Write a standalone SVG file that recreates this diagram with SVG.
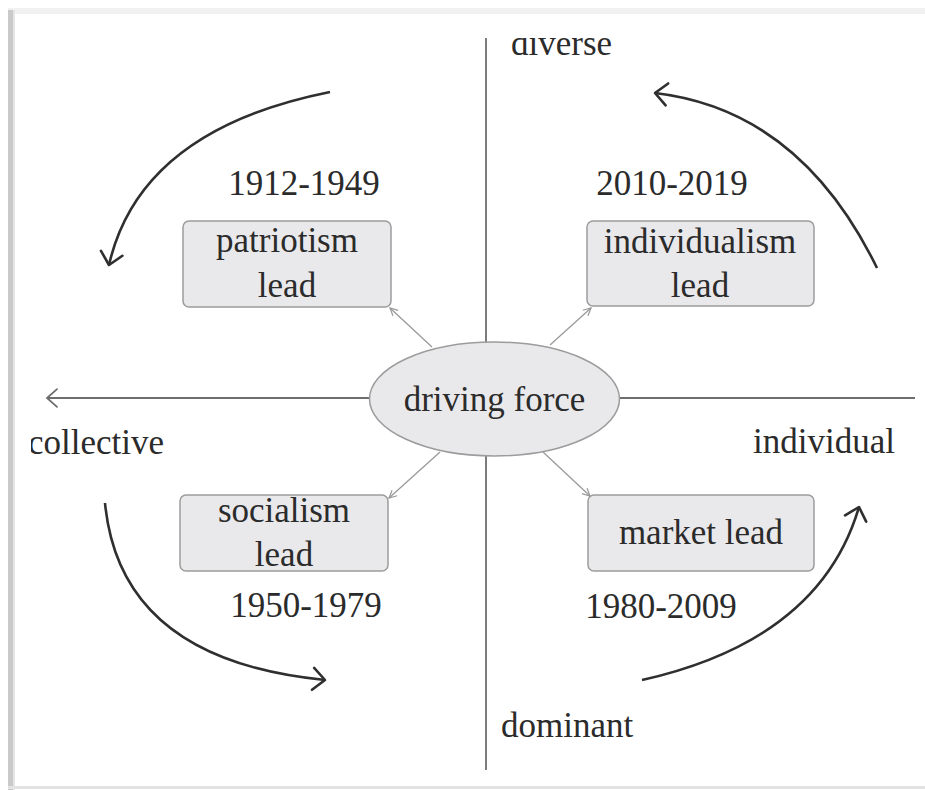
<svg xmlns="http://www.w3.org/2000/svg" width="925" height="790" viewBox="0 0 925 790">
  <style>
    .box { fill: #e9e9eb; stroke: #9c9c9c; stroke-width: 1.5; }
    .axis { stroke: #6e6e6e; stroke-width: 1.8; fill: none; }
    .link { stroke: #9a9a9a; stroke-width: 1.3; fill: none; marker-end: url(#tip); }
    .flow { stroke: #2f2f2f; stroke-width: 2.6; fill: none; marker-end: url(#chev); }
  </style>
  <defs>
    <marker id="chev" markerUnits="userSpaceOnUse" markerWidth="30" markerHeight="30" refX="15" refY="12" orient="auto" viewBox="0 0 30 24">
      <path d="M3,1 L15,12 L3,23" fill="none" stroke="#2f2f2f" stroke-width="2.6" stroke-linecap="round" stroke-linejoin="round"/>
    </marker>
    <marker id="axtip" markerUnits="userSpaceOnUse" markerWidth="20" markerHeight="20" refX="12" refY="9" orient="auto" viewBox="0 0 14 18">
      <path d="M3,1 L12,9 L3,17" fill="none" stroke="#6e6e6e" stroke-width="1.6" stroke-linecap="round"/>
    </marker>
    <marker id="tip" markerUnits="userSpaceOnUse" markerWidth="10" markerHeight="10" refX="7" refY="4" orient="auto" viewBox="0 0 8 8">
      <path d="M1,1 L7,4 L1,7" fill="none" stroke="#9a9a9a" stroke-width="1"/>
    </marker>
    <clipPath id="frame">
      <rect x="31" y="38" width="889" height="749"/>
    </clipPath>
  </defs>

  <rect width="925" height="790" fill="#ffffff"/>
  <!-- soft page edge -->
  <rect x="8" y="8" width="917" height="6" fill="#f1f1f1"/>
  <rect x="8" y="10" width="5" height="780" fill="#c9c9c9"/>
  <rect x="13" y="10" width="2" height="780" fill="#e6e6e6"/>
  <rect x="8" y="786" width="917" height="3" fill="#e3e3e3"/>

  <g clip-path="url(#frame)" font-family="Liberation Serif, DejaVu Serif, serif" font-size="35" fill="#2b2b2b">
    <!-- axes and links -->
    <g id="connectors">
      <line class="axis" x1="486" y1="35" x2="486" y2="342"/>
      <line class="axis" x1="486" y1="456" x2="486" y2="770"/>
      <line class="axis" x1="369" y1="398" x2="47" y2="398" marker-end="url(#axtip)"/>
      <line class="axis" x1="620" y1="398" x2="915" y2="398"/>

      <line class="link" x1="432" y1="347" x2="390" y2="308"/>
      <line class="link" x1="550" y1="345" x2="591" y2="308"/>
      <line class="link" x1="440" y1="452" x2="389" y2="498"/>
      <line class="link" x1="543" y1="452" x2="590" y2="496"/>

      <path class="flow" d="M330,92 Q140,130 109,265"/>
      <path class="flow" d="M877,268 Q800,110 655,93"/>
      <path class="flow" d="M105,503 Q120,660 325,680"/>
      <path class="flow" d="M642,680 Q820,640 859,507"/>
    </g>

    <g id="driving-force">
      <ellipse cx="494.5" cy="399" rx="125" ry="57" class="box"/>
      <text x="494.5" y="411" text-anchor="middle">driving force</text>
    </g>

    <g id="patriotism">
      <rect class="box" x="183" y="221" width="208" height="86" rx="6"/>
      <text x="287" y="252" text-anchor="middle">patriotism</text>
      <text x="287" y="297" text-anchor="middle">lead</text>
      <text x="304" y="195" text-anchor="middle">1912-1949</text>
    </g>

    <g id="individualism">
      <rect class="box" x="587" y="221" width="227" height="85" rx="6"/>
      <text x="700" y="253" text-anchor="middle">individualism</text>
      <text x="700" y="297" text-anchor="middle">lead</text>
      <text x="672" y="195" text-anchor="middle">2010-2019</text>
    </g>

    <g id="socialism">
      <rect class="box" x="180" y="495" width="208" height="76" rx="6"/>
      <text x="284" y="522" text-anchor="middle">socialism</text>
      <text x="284" y="566" text-anchor="middle">lead</text>
      <text x="306" y="617" text-anchor="middle">1950-1979</text>
    </g>

    <g id="market">
      <rect class="box" x="588" y="495" width="226" height="76" rx="6"/>
      <text x="701" y="544" text-anchor="middle">market lead</text>
      <text x="661" y="618" text-anchor="middle">1980-2009</text>
    </g>

    <g id="axis-labels">
      <text x="511" y="55">diverse</text>
      <text x="164" y="454" text-anchor="end">collective</text>
      <text x="895" y="453" text-anchor="end">individual</text>
      <text x="501" y="737">dominant</text>
    </g>
  </g>
</svg>
